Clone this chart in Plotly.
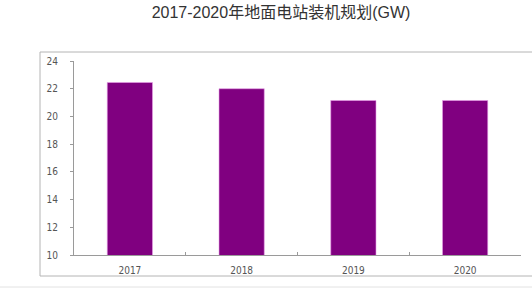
import plotly.graph_objects as go

years = ["2017", "2018", "2019", "2020"]
capacity_gw = [22.45, 22.0, 21.15, 21.15]
y_ticks = [10, 12, 14, 16, 18, 20, 22, 24]
title_text = "2017-2020年地面电站装机规划(GW)"

tick_font = dict(family="Liberation Sans Narrow, Arial Narrow, DejaVu Sans Condensed, sans-serif",
                 size=10, color="#555555")

fig = go.Figure()
fig.add_trace(go.Bar(
    x=years, y=capacity_gw, base=0,
    marker=dict(color="#800080", line=dict(color="#e8a0e8", width=0.6)),
    hoverinfo="x+y",
))

fig.update_layout(
    width=532, height=288,
    margin=dict(l=74, r=11, t=61, b=33),
    paper_bgcolor="white", plot_bgcolor="white",
    bargap=0.595,
    showlegend=False,
    title=dict(text=title_text, x=281/532, xanchor="center", xref="container",
               y=1 - 12/288, yanchor="middle", yref="container",
               font=dict(family="Liberation Sans, Noto Sans CJK SC, sans-serif", size=16, color="#333333")),
    xaxis=dict(type="category", range=[-0.5, 3.5], showline=True, linecolor="#9a9a9a",
               linewidth=1, ticks="inside", ticklen=3, tickcolor="#9a9a9a",
               tickson="boundaries", showgrid=False, tickfont=tick_font,
               ticklabelstandoff=6, fixedrange=True),
    yaxis=dict(range=[10, 24], tickvals=y_ticks, showline=True, linecolor="#9a9a9a",
               linewidth=1, ticks="outside", ticklen=3, tickcolor="#9a9a9a",
               showgrid=False, zeroline=False, tickfont=tick_font,
               ticklabelstandoff=10, fixedrange=True),
)

# outer chart frame (as in the screenshot)
fig.add_shape(type="rect", xref="paper", yref="paper",
              x0=(40 - 74) / 447, x1=1.2, y0=(255 - 276) / 194, y1=(255 - 52) / 194,
              line=dict(color="#b4b4b4", width=1), fillcolor="rgba(0,0,0,0)", layer="below")
fig.add_shape(type="line", xref="paper", yref="paper",
              x0=-0.3, x1=1.2, y0=(255 - 287) / 194, y1=(255 - 287) / 194,
              line=dict(color="#e2e2e2", width=1))

fig.write_html("out.html")
